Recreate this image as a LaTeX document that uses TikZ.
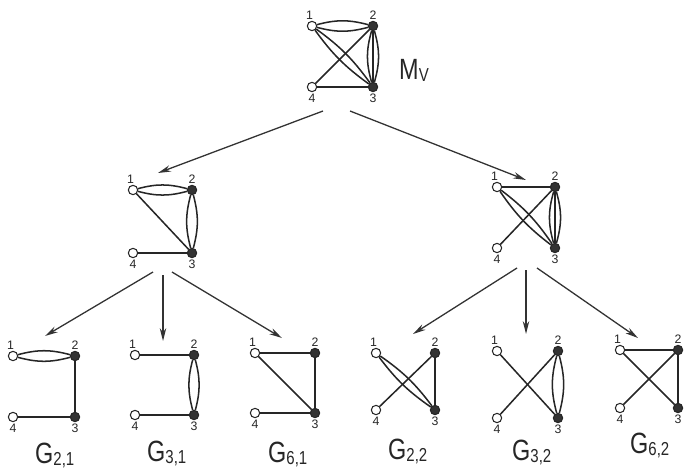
\documentclass[tikz,border=0pt]{standalone}
\usepackage{fontspec}
\setmainfont{Liberation Sans}
\usepackage{graphicx}
\usetikzlibrary{arrows.meta}

\tikzset{
  vtx/.style   = {circle, draw=black!85, line width=0.9pt, minimum size=0.28cm,
                  inner sep=0pt, label distance=2pt},
  opnv/.style  = {vtx, fill=white},
  fullv/.style = {vtx, fill=black!80},
  vnum/.style  = {font=\fontsize{10.5}{10.5}\selectfont, inner sep=1pt, text=black!85},
  link/.style  = {line width=1.3pt, draw=black!85},
  arr/.style   = {-{Stealth[length=11pt,width=5.5pt]}, line width=1.1pt, draw=black!80, fill=black!80},
  gname/.style = {font=\fontsize{25}{25}\selectfont, inner sep=0pt, anchor=base west, text=black!85},
}

% name with lowered index
\newcommand{\gsub}[2]{\scalebox{0.8}[1]{#1\raisebox{-2pt}{\fontsize{16}{16}\selectfont #2}}}

% four vertices: prefix, x, y, width, height
\newcommand{\vquad}[5]{%
  \node[opnv,  label={[vnum,xshift=-2pt]90:1}] (#1-1) at (#2,#3) {};
  \node[fullv, label={[vnum]90:2}]  (#1-2) at (#2+#4,#3) {};
  \node[fullv, label={[vnum]-90:3}] (#1-3) at (#2+#4,#3+#5) {};
  \node[opnv,  label={[vnum]-90:4}] (#1-4) at (#2,#3+#5) {};
}

\begin{document}
\begin{tikzpicture}[x=0.03cm, y=-0.03cm]
  \useasboundingbox (0,0) rectangle (685,469);

  % top graph M_V
  \vquad{m}{312}{26}{61}{61}
  \node[gname] (mv) at (399,79) {\gsub{M}{V}};
  \draw[link] (m-1) to[bend left=15] (m-2);
  \draw[link] (m-1) to[bend right=15] (m-2);
  \draw[link] (m-1) to[bend left=9] (m-3);
  \draw[link] (m-1) to[bend right=9] (m-3);
  \draw[link] (m-2) -- (m-3);
  \draw[link] (m-2) to[bend left=16] (m-3);
  \draw[link] (m-2) to[bend right=16] (m-3);
  \draw[link] (m-4) -- (m-2);
  \draw[link] (m-4) -- (m-3);

  % middle left
  \vquad{l}{133}{190}{59}{63}
  \draw[link] (l-1) to[bend left=15] (l-2);
  \draw[link] (l-1) to[bend right=15] (l-2);
  \draw[link] (l-2) to[bend left=15] (l-3);
  \draw[link] (l-2) to[bend right=15] (l-3);
  \draw[link] (l-1) -- (l-3);
  \draw[link] (l-4) -- (l-3);

  % middle right
  \vquad{r}{497}{187}{58}{61}
  \draw[link] (r-1) -- (r-2);
  \draw[link] (r-1) to[bend left=9] (r-3);
  \draw[link] (r-1) to[bend right=9] (r-3);
  \draw[link] (r-2) -- (r-3);
  \draw[link] (r-2) to[bend left=16] (r-3);
  \draw[link] (r-2) to[bend right=16] (r-3);
  \draw[link] (r-4) -- (r-2);

  % G_{2,1}
  \vquad{a}{13}{356}{62}{61}
  \node[gname] (ga) at (35,463) {\gsub{G}{2,1}};
  \draw[link] (a-1) to[bend left=15] (a-2);
  \draw[link] (a-1) to[bend right=15] (a-2);
  \draw[link] (a-2) -- (a-3);
  \draw[link] (a-4) -- (a-3);

  % G_{3,1}
  \vquad{b}{135}{355}{59}{60}
  \node[gname] (gb) at (147,461) {\gsub{G}{3,1}};
  \draw[link] (b-1) -- (b-2);
  \draw[link] (b-2) to[bend left=15] (b-3);
  \draw[link] (b-2) to[bend right=15] (b-3);
  \draw[link] (b-4) -- (b-3);

  % G_{6,1}
  \vquad{c}{255}{353}{60}{60}
  \node[gname] (gc) at (268,462) {\gsub{G}{6,1}};
  \draw[link] (c-1) -- (c-2);
  \draw[link] (c-1) -- (c-3);
  \draw[link] (c-2) -- (c-3);
  \draw[link] (c-4) -- (c-3);

  % G_{2,2}
  \vquad{d}{376}{353}{59}{57}
  \node[gname] (gd) at (388,459) {\gsub{G}{2,2}};
  \draw[link] (d-1) to[bend left=9] (d-3);
  \draw[link] (d-1) to[bend right=9] (d-3);
  \draw[link] (d-2) -- (d-3);
  \draw[link] (d-4) -- (d-2);

  % G_{3,2}
  \vquad{e}{497}{351}{61}{67}
  \node[gname] (ge) at (512,460) {\gsub{G}{3,2}};
  \draw[link] (e-1) -- (e-3);
  \draw[link] (e-2) to[bend left=15] (e-3);
  \draw[link] (e-2) to[bend right=15] (e-3);
  \draw[link] (e-4) -- (e-2);

  % G_{6,2}
  \vquad{f}{620}{350}{58}{58}
  \node[gname] (gf) at (630,453) {\gsub{G}{6,2}};
  \draw[link] (f-1) -- (f-2);
  \draw[link] (f-1) -- (f-3);
  \draw[link] (f-2) -- (f-3);
  \draw[link] (f-4) -- (f-2);

  % arrows
  \coordinate (mout-l) at (323,111);
  \coordinate (mout-r) at (350,111);
  \coordinate (lin)    at (158,173);
  \coordinate (rin)    at (526,180);
  \draw[arr] (mout-l) -- (lin);
  \draw[arr] (mout-r) -- (rin);

  \coordinate (lout-a) at (153,272);
  \coordinate (lout-b) at (163,275);
  \coordinate (lout-c) at (172,272);
  \coordinate (ain)    at (45,336);
  \coordinate (bin)    at (163,341);
  \coordinate (cin)    at (282,338);
  \draw[arr] (lout-a) -- (ain);
  \draw[arr] (lout-b) -- (bin);
  \draw[arr] (lout-c) -- (cin);

  \coordinate (rout-d) at (517,268);
  \coordinate (rout-e) at (526,270);
  \coordinate (rout-f) at (537,268);
  \coordinate (din)    at (413,334);
  \coordinate (ein)    at (526,334);
  \coordinate (fin)    at (638,338);
  \draw[arr] (rout-d) -- (din);
  \draw[arr] (rout-e) -- (ein);
  \draw[arr] (rout-f) -- (fin);
\end{tikzpicture}
\end{document}
